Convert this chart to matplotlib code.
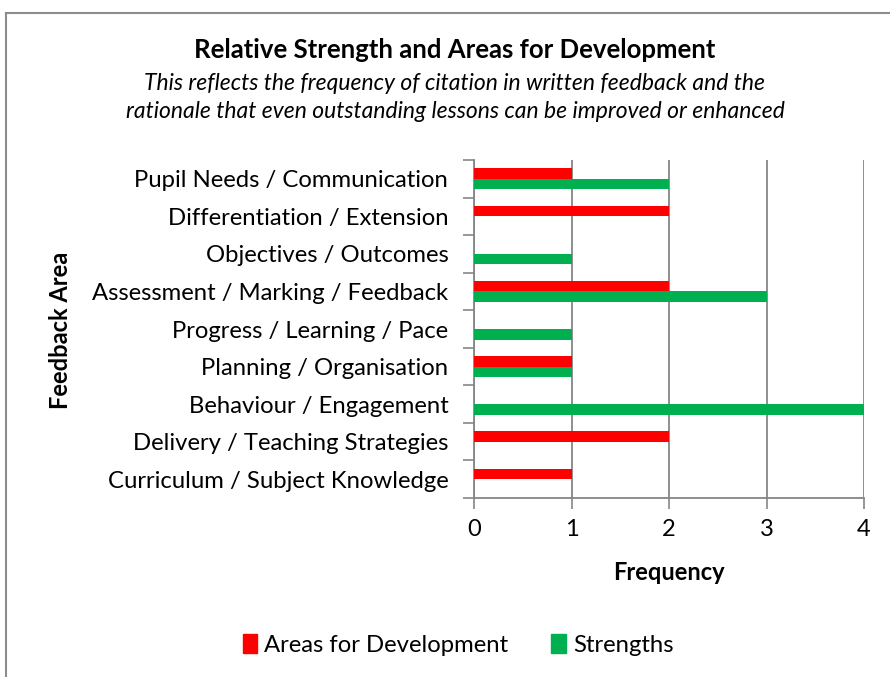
import matplotlib
matplotlib.use("Agg")
import matplotlib.pyplot as plt
import numpy as np
from matplotlib.lines import Line2D
from matplotlib.patches import Patch

# data, top to bottom as shown in the chart
areas = ["Pupil Needs / Communication", "Differentiation / Extension",
         "Objectives / Outcomes", "Assessment / Marking / Feedback",
         "Progress / Learning / Pace", "Planning / Organisation",
         "Behaviour / Engagement", "Delivery / Teaching Strategies",
         "Curriculum / Subject Knowledge"]
development = [1, 2, 0, 2, 0, 1, 0, 2, 1]
strengths = [2, 0, 1, 3, 1, 1, 4, 0, 0]
xticks = [0, 1, 2, 3, 4]

RED, GREEN, GRID = "#FF0000", "#00B050", "#868686"
plt.rcParams["font.family"] = ["Lato", "DejaVu Sans"]

W, H = 890, 677
fig = plt.figure(figsize=(W / 100, H / 100), dpi=100)
ax = fig.add_axes([474 / W, 1 - 498 / H, 390 / W, 338 / H])

n = len(areas)
y = np.arange(n)[::-1]          # first category at the top
h = 0.28
ax.barh(y + h / 2, development, height=h, color=RED, label="Areas for Development", zorder=3)
ax.barh(y - h / 2, strengths, height=h, color=GREEN, label="Strengths", zorder=3)

ax.set_xlim(0, 4)
ax.set_ylim(-0.5, n - 0.5)
ax.set_xticks(xticks)
ax.set_yticks(y)
ax.set_yticklabels(areas)
ax.set_yticks(np.arange(n + 1) - 0.5, minor=True)
ax.tick_params(axis="y", which="major", length=0, pad=18.5, labelsize=17.2)
ax.tick_params(axis="y", which="minor", length=8, color=GRID, width=1.2)
ax.tick_params(axis="x", length=8, color=GRID, width=1.2, labelsize=17, pad=7)
ax.grid(axis="x", color=GRID, lw=1.3, zorder=0)
for s in ("top", "right"):
    ax.spines[s].set_visible(False)
for s in ("left", "bottom"):
    ax.spines[s].set_color(GRID)
    ax.spines[s].set_linewidth(1.3)

fig.text(669 / W, 1 - 573 / H, "Frequency", ha="center", va="center",
         fontsize=17, fontweight="bold")
fig.text(60 / W, 1 - 330 / H, "Feedback Area", ha="center", va="center",
         rotation=90, fontsize=17, fontweight="bold")

fig.text(455 / W, 1 - 50 / H, "Relative Strength and Areas for Development",
         ha="center", va="center", fontsize=18.5, fontweight="bold")
fig.text(455 / W, 1 - 83 / H,
         "This reflects the frequency of citation in written feedback and the",
         ha="center", va="center", fontsize=16.5, style="italic")
fig.text(455 / W, 1 - 112 / H,
         "rationale that even outstanding lessons can be improved or enhanced",
         ha="center", va="center", fontsize=16.5, style="italic")

handles = [Patch(color=RED, label="Areas for Development"),
           Patch(color=GREEN, label="Strengths")]
fig.legend(handles=handles, loc="center", bbox_to_anchor=(458 / W, 1 - 645 / H),
           ncol=2, frameon=False, fontsize=17.2, handlelength=0.6, handleheight=0.8,
           handletextpad=0.3, columnspacing=1.8)

# outer chart border (cropped at right and bottom)
fig.add_artist(Line2D([6 / W, 6 / W], [0, 1 - 13 / H], color="#8c8c8c", lw=1.5))
fig.add_artist(Line2D([6 / W, 1], [1 - 13 / H, 1 - 13 / H], color="#8c8c8c", lw=1.5))

fig.savefig("out.png", dpi=100)
